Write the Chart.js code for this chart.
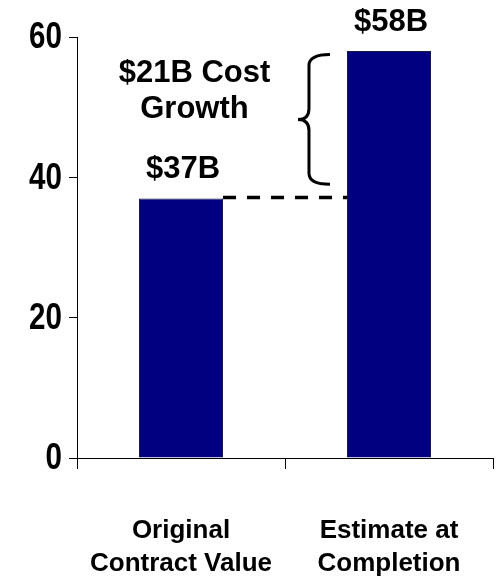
<!DOCTYPE html>
<html>
<head>
<meta charset="utf-8">
<script src="https://cdn.jsdelivr.net/npm/chart.js@4.4.1/dist/chart.umd.min.js"></script>
<style>
  html, body { margin: 0; padding: 0; background: #fff; }
  #wrap { width: 501px; height: 577px; position: relative; }
</style>
</head>
<body>
<div id="wrap"><canvas id="c"></canvas></div>
<script>
const categories = [["Original", "Contract Value"], ["Estimate at", "Completion"]];
const values = [37, 58];
const valueLabels = ["$37B", "$58B"];
const yTicks = [0, 20, 40, 60];
const growthLabel = ["$21B Cost", "Growth"];

const annotate = {
  id: 'annotate',
  afterDraw(chart) {
    const ctx = chart.ctx;
    const meta = chart.getDatasetMeta(0);
    const y = chart.scales.y;
    const b0 = meta.data[0], b1 = meta.data[1];
    const w0 = b0.width / 2, w1 = b1.width / 2;
    ctx.save();
    // y tick labels (condensed look)
    ctx.fillStyle = '#000';
    ctx.font = 'bold 37px "Liberation Sans", Arial, sans-serif';
    ctx.textAlign = 'right';
    ctx.textBaseline = 'middle';
    const xRight = y.right - 8 - 7;
    yTicks.forEach(v => {
      ctx.save();
      ctx.translate(xRight, y.getPixelForValue(v) + 1);
      ctx.scale(0.8, 1);
      ctx.fillText(String(v), 0, 0);
      ctx.restore();
    });
    // value labels
    ctx.font = 'bold 31px "Liberation Sans", Arial, sans-serif';
    ctx.textAlign = 'center';
    ctx.textBaseline = 'alphabetic';
    meta.data.forEach((bar, i) => {
      ctx.fillText(valueLabels[i], bar.x + 2, bar.y - 20);
    });
    // dashed line
    ctx.strokeStyle = '#000';
    ctx.lineWidth = 3.5;
    ctx.setLineDash([13, 11]);
    const yd = y.getPixelForValue(values[0]) - 1;
    ctx.beginPath();
    ctx.moveTo(b0.x + w0, yd);
    ctx.lineTo(b1.x - w1, yd);
    ctx.stroke();
    ctx.setLineDash([]);
    // brace
    const yTop = y.getPixelForValue(57.5);
    const yBot = y.getPixelForValue(39);
    const yMid = (yTop + yBot) / 2;
    const xr = b1.x - w1 - 17;
    const xm = xr - 21;
    const xl = xm - 11;
    const r = 11;
    ctx.lineWidth = 3;
    ctx.beginPath();
    ctx.moveTo(xr, yTop);
    ctx.quadraticCurveTo(xm, yTop, xm, yTop + r);
    ctx.lineTo(xm, yMid - r);
    ctx.quadraticCurveTo(xm, yMid, xl, yMid);
    ctx.quadraticCurveTo(xm, yMid, xm, yMid + r);
    ctx.lineTo(xm, yBot - r);
    ctx.quadraticCurveTo(xm, yBot, xr, yBot);
    ctx.stroke();
    // growth text
    const xc = (chart.chartArea.left + xl) / 2 + 7;
    ctx.font = 'bold 31px "Liberation Sans", Arial, sans-serif';
    ctx.fillText(growthLabel[0], xc, y.getPixelForValue(53.6));
    ctx.fillText(growthLabel[1], xc, y.getPixelForValue(48.5));
    ctx.restore();
  }
};

new Chart(document.getElementById('c'), {
  type: 'bar',
  data: {
    labels: categories,
    datasets: [{
      data: values,
      backgroundColor: '#000080',
      borderColor: '#1a1a40',
      borderWidth: 1,
      barPercentage: 0.404,
      categoryPercentage: 1.0
    }]
  },
  options: {
    responsive: true,
    maintainAspectRatio: false,
    animation: false,
    devicePixelRatio: 1,
    layout: { padding: { top: 37, right: 8, left: 0, bottom: 0 } },
    plugins: { legend: { display: false }, tooltip: { enabled: false } },
    scales: {
      x: {
        grid: { drawOnChartArea: false, drawTicks: true, tickLength: 11, color: '#000', offset: true },
        border: { color: '#000', width: 1 },
        ticks: {
          color: '#000',
          padding: 46,
          maxRotation: 0,
          font: { family: '"Liberation Sans", Arial, sans-serif', size: 26, weight: 'bold', lineHeight: 1.24 }
        },
        afterFit(s) { s.height = 119; s.paddingLeft = 0; s.paddingRight = 0; }
      },
      y: {
        min: 0,
        max: 60,
        afterBuildTicks(s) { s.ticks = yTicks.map(v => ({ value: v })); },
        grid: { drawOnChartArea: false, drawTicks: true, tickLength: 8, color: '#000' },
        border: { color: '#000', width: 1 },
        ticks: { display: false },
        afterFit(s) { s.width = 77; s.paddingTop = 0; s.paddingBottom = 0; }
      }
    }
  },
  plugins: [annotate]
});
</script>
</body>
</html>
